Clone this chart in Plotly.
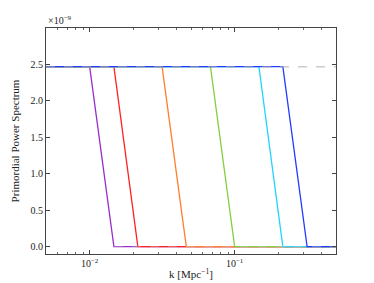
import plotly.graph_objects as go

# k grid (Mpc^-1)
k_edges = [0.01, 0.0147, 0.0215, 0.0316, 0.0464, 0.0681, 0.1, 0.147, 0.215, 0.316]
As = 2.47e-9
k_min, k_max = 0.005, 0.5

# each series: (start of drop, end of drop, colour)
drop_start = [0.01, 0.0147, 0.0316, 0.0681, 0.147, 0.215]
drop_end = [0.0147, 0.0215, 0.0464, 0.1, 0.215, 0.316]
colors = ["#9a2ccc", "#ff2222", "#ff7f2a", "#80d040", "#22d4ff", "#1f3cff"]

ytick_vals = [0.0, 0.5e-9, 1.0e-9, 1.5e-9, 2.0e-9, 2.5e-9]
ytick_text = ["0.0", "0.5", "1.0", "1.5", "2.0", "2.5"]
xtick_vals = [0.01, 0.1]
xtick_text = ["10<sup>−2</sup>", "10<sup>−1</sup>"]
minor_vals = [v * d for d in (0.001, 0.01, 0.1) for v in range(2, 10)]
minor_vals = [m for m in minor_vals if k_min <= m <= k_max]

fig = go.Figure()
for ks, ke, c in zip(drop_start, drop_end, colors):
    fig.add_trace(go.Scatter(
        x=[k_min, ks, ke, k_max], y=[As, As, 0.0, 0.0],
        mode="lines", line=dict(color=c, width=1.3), showlegend=False))

fig.add_trace(go.Scatter(x=[k_min, k_max], y=[As, As], mode="lines",
                         line=dict(color="rgba(170,170,170,0.6)", width=1.5, dash="dash"),
                         showlegend=False))
fig.add_trace(go.Scatter(x=[drop_end[0], k_max], y=[0.0, 0.0], mode="lines",
                         line=dict(color="rgba(200,200,200,0.35)", width=1.5, dash="dash"),
                         showlegend=False))

font = dict(family="Liberation Serif, serif", size=10, color="#222")
fig.update_layout(
    width=366, height=275,
    margin=dict(l=38, r=38, t=20, b=29, autoexpand=False),
    paper_bgcolor="white", plot_bgcolor="white",
    font=font,
    xaxis=dict(type="log", range=[-2.30103, -0.30103], automargin=False,
               tickvals=xtick_vals, ticktext=xtick_text,
               ticks="inside", ticklen=4, tickwidth=0.8, tickcolor="#444",
               minor=dict(tickvals=minor_vals, ticks="inside", ticklen=2, tickcolor="#666", tickwidth=0.6),
               showline=True, linecolor="#444", linewidth=1, mirror="ticks",
               showgrid=False, zeroline=False,
               title=dict(text="k [Mpc<sup>−1</sup>]", font=dict(size=11), standoff=2)),
    yaxis=dict(range=[-0.1e-9, 3.0e-9], automargin=False,
               tickvals=ytick_vals, ticktext=ytick_text,
               ticks="inside", ticklen=4, tickwidth=0.8, tickcolor="#444",
               showline=True, linecolor="#444", linewidth=1, mirror="ticks",
               showgrid=False, zeroline=False,
               title=dict(text="Primordial Power Spectrum", font=dict(size=11), standoff=8)),
    annotations=[dict(text="×10<sup>−9</sup>", xref="paper", yref="paper", x=0, y=1.0,
                      xanchor="left", yanchor="bottom", showarrow=False,
                      font=dict(size=10, color="#222"), yshift=0)],
)
fig.write_html("out.html")
